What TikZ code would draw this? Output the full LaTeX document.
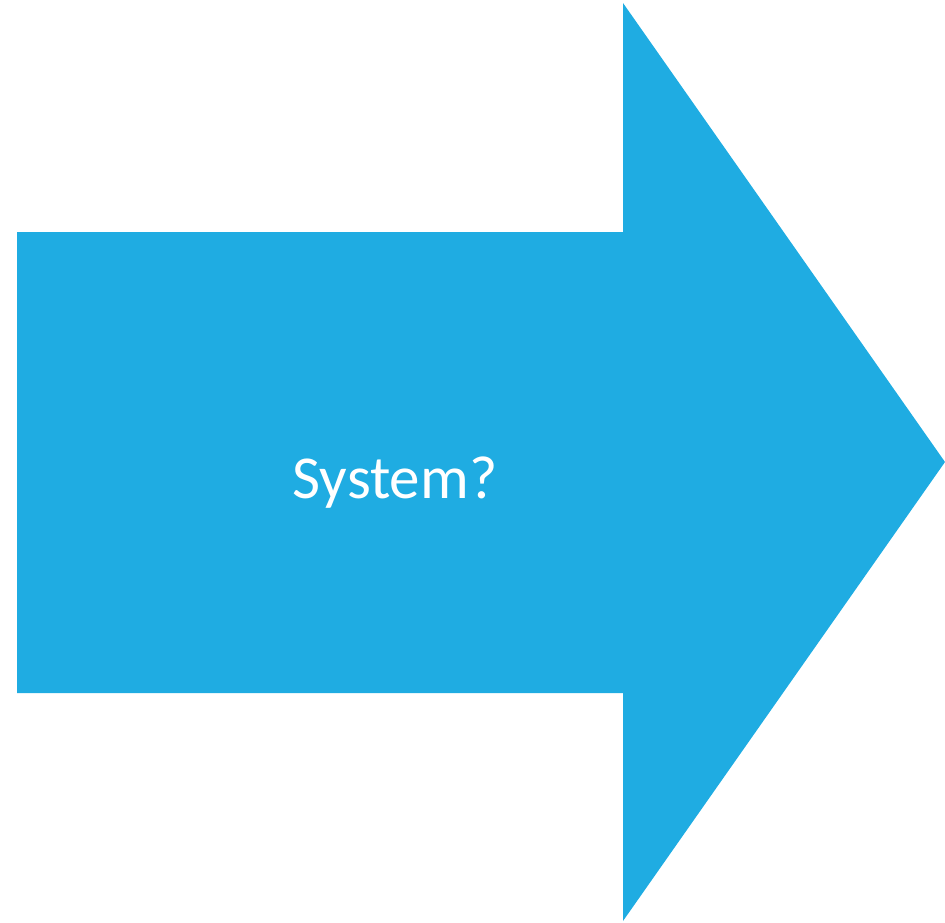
\documentclass[tikz,border=0pt]{standalone}
\usepackage{fontspec}
\setmainfont{Carlito}
\definecolor{arrowblue}{HTML}{1FACE2}
\begin{document}
\begin{tikzpicture}[x=1pt,y=-1pt,
  arrowshape/.style={fill=arrowblue,draw=none},
  label/.style={text=white,font=\fontsize{61}{72}\selectfont,anchor=base,inner sep=0pt}]
\useasboundingbox (0,0) rectangle (945,923);
\path[arrowshape] (17,232) -- (623,232) -- (623,3) -- (945,462) -- (623,921) -- (623,693) -- (17,693) -- cycle;
\node[label] (t) at (395,498) {System?};
\end{tikzpicture}
\end{document}
